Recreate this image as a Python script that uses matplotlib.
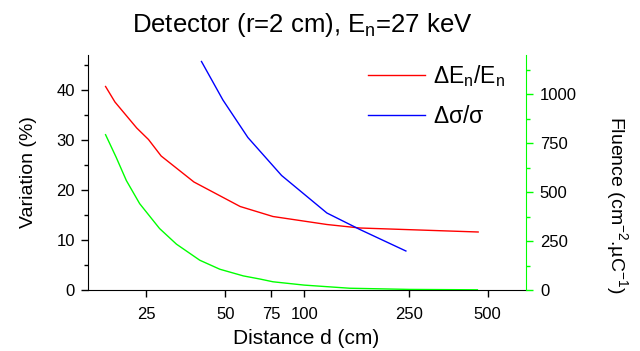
import matplotlib
matplotlib.use("Agg")
import matplotlib.pyplot as plt
from matplotlib.ticker import FixedLocator, NullLocator, MultipleLocator, NullFormatter

plt.rcParams['font.family'] = ['Liberation Sans', 'DejaVu Sans']
plt.rcParams['mathtext.fontset'] = 'custom'
plt.rcParams['mathtext.rm'] = 'Liberation Sans'
plt.rcParams['mathtext.it'] = 'Liberation Sans:italic'
plt.rcParams['mathtext.default'] = 'regular'

# Energy resolution variation vs distance
d_energy = [17.5, 19, 23, 25.5, 28.5, 38, 57, 76, 122, 163, 460]
var_energy = [40.7, 37.6, 32.4, 30.1, 26.8, 21.6, 16.7, 14.7, 13.1, 12.4, 11.6]

# Cross-section variation vs distance
d_sigma = [40.6, 49, 61, 82, 122, 163, 244]
var_sigma = [45.7, 38.0, 30.5, 22.9, 15.4, 12.1, 7.8]

# Neutron fluence vs distance
d_fluence = [17.5, 19.2, 21, 23.6, 28.1, 32.6, 40, 47.7, 58.6, 67.8, 76, 100, 149, 252, 457]
fluence = [793, 678, 559, 441, 314, 234, 152, 106, 72, 56, 42, 25, 9, 3, 1]

x_ticks = [25, 50, 75, 100, 250, 500]
x_tick_labels = ["25", "50", "75", "100", "250", "500"]

W, H = 640, 351
fig = plt.figure(figsize=(6.4, 3.51), dpi=100)
ax = fig.add_axes([88 / W, 1 - 290 / H, (526 - 88) / W, (290 - 55) / H])
ax2 = ax.twinx()

l1, = ax.plot(d_energy, var_energy, color='#ff0000', lw=1.0, label=r'$\Delta E_n/E_n$')
l2, = ax.plot(d_sigma, var_sigma, color='#0000ff', lw=1.0, label=r'$\Delta\sigma/\sigma$')
ax2.plot(d_fluence, fluence, color='#00ff00', lw=1.0)

ax.set_xscale('log')
ax.set_xlim(15, 700)
ax.set_ylim(0, 47)
ax2.set_ylim(0, 1200)

ax.xaxis.set_major_locator(FixedLocator(x_ticks))
ax.set_xticklabels(x_tick_labels)
ax.xaxis.set_minor_locator(NullLocator())
ax.xaxis.set_minor_formatter(NullFormatter())

ax.yaxis.set_major_locator(MultipleLocator(10))
ax.yaxis.set_minor_locator(MultipleLocator(5))
ax2.yaxis.set_major_locator(MultipleLocator(250))
ax2.yaxis.set_minor_locator(MultipleLocator(125))

for a in (ax, ax2):
    a.spines['top'].set_visible(False)
ax.spines['right'].set_visible(False)
ax2.spines['left'].set_visible(False)
ax2.spines['bottom'].set_visible(False)
ax2.spines['right'].set_color('#00ff00')

ax.tick_params(axis='x', which='major', direction='out', length=5, width=1, labelsize=12, pad=7)
ax.tick_params(axis='y', which='major', direction='out', length=5, width=1, labelsize=12, pad=4.5)
ax.tick_params(axis='y', which='minor', direction='out', length=3, width=1)
ax2.tick_params(axis='y', which='major', direction='out', length=5, width=1, color='#00ff00', labelsize=12, pad=5)
ax2.tick_params(axis='y', which='minor', direction='out', length=3, width=1, color='#00ff00')

ax.set_ylabel('Variation (%)', fontsize=14, labelpad=14)
fig.text(306 / W, 1 - 344 / H, 'Distance d (cm)', fontsize=15, ha='center', va='baseline')
fig.text(617 / W, 1 - 205 / H, r'Fluence (cm$^{-2}$.µC$^{-1}$)', fontsize=14,
         rotation=270, ha='center', va='center')
fig.text(302 / W, 1 - 32 / H, r'Detector (r=2 cm), E$_n$=27 keV', fontsize=18.5,
         ha='center', va='baseline')

ax.legend(handles=[l1, l2], loc='upper left', frameon=False, fontsize=16.5,
          handlelength=2.5, handletextpad=0.35, labelspacing=0.72,
          borderpad=0.4, bbox_to_anchor=(0.592, 1.054))

fig.savefig('out.png', dpi=100)
